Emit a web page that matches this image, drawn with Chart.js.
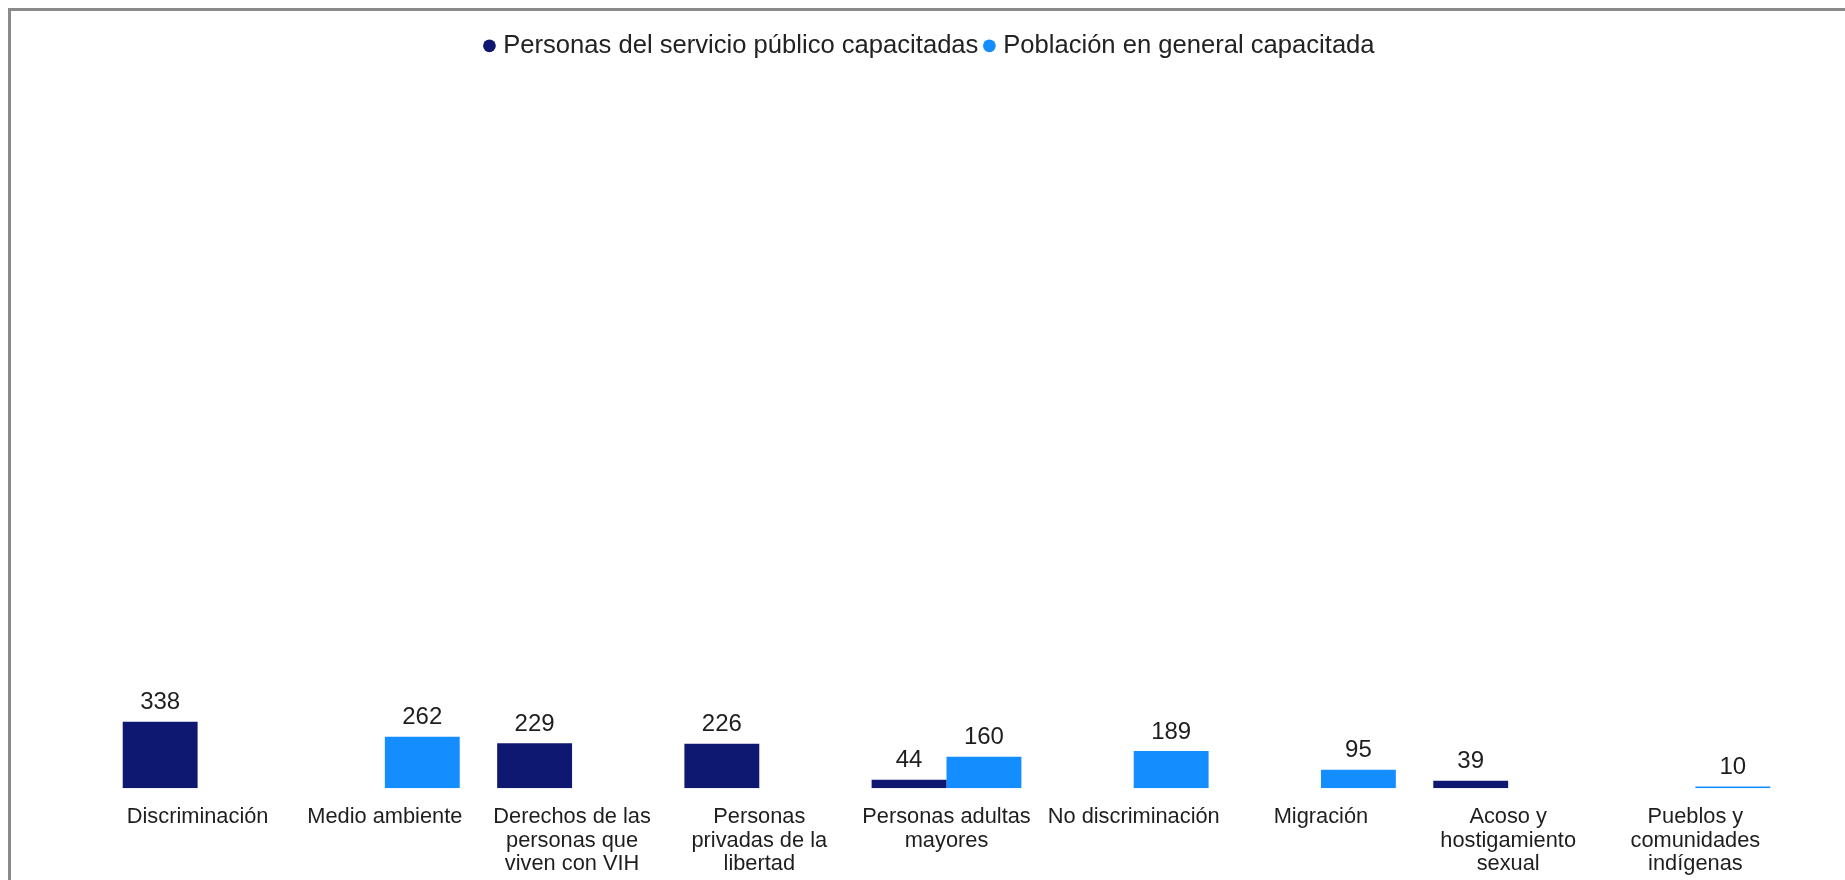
<!DOCTYPE html>
<html>
<head>
<meta charset="utf-8">
<script src="https://cdn.jsdelivr.net/npm/chart.js@4"></script>
<style>
  html, body { margin: 0; padding: 0; background: #fff; overflow: hidden; }
  #frame {
    position: absolute; left: 8px; top: 8px; width: 2000px; height: 2000px;
    border-top: 3px solid #8a8a8a; border-left: 3px solid #8a8a8a;
  }
  #myChart { position: absolute; left: 0; top: 0; }
</style>
</head>
<body>
<div id="frame"></div>
<canvas id="myChart" width="1845" height="897"></canvas>
<script>
const categories = [
  'Discriminación',
  'Medio ambiente',
  ['Derechos de las', 'personas que', 'viven con VIH'],
  ['Personas', 'privadas de la', 'libertad'],
  ['Personas adultas', 'mayores'],
  'No discriminación',
  'Migración',
  ['Acoso y', 'hostigamiento', 'sexual'],
  ['Pueblos y', 'comunidades', 'indígenas'],
];
const seriesNames = ['Personas del servicio público capacitadas', 'Población en general capacitada'];
const servicioPublico = [338, null, 229, 226, 44, null, null, 39, null];
const poblacionGeneral = [null, 262, null, null, 160, 189, 95, null, 10];

const fontFamily = '"Liberation Sans", Arial, sans-serif';

// draws the number above each bar
const valueLabels = {
  id: 'valueLabels',
  afterDatasetsDraw(chart) {
    const ctx = chart.ctx;
    ctx.save();
    ctx.font = '24px ' + fontFamily;
    ctx.fillStyle = '#1e1e1e';
    ctx.textAlign = 'center';
    ctx.textBaseline = 'middle';
    chart.data.datasets.forEach((ds, i) => {
      chart.getDatasetMeta(i).data.forEach((bar, j) => {
        const v = ds.data[j];
        if (v === null || v === undefined) return;
        ctx.fillText(String(v), bar.x, bar.y - 19);
      });
    });
    ctx.restore();
  },
};

const config = {
  type: 'bar',
  data: {
    labels: categories,
    datasets: [
      {
        label: seriesNames[0],
        data: servicioPublico,
        backgroundColor: '#0f1871',
        categoryPercentage: 0.8,
        barPercentage: 1.0,
      },
      {
        label: seriesNames[1],
        data: poblacionGeneral,
        backgroundColor: '#138dff',
        categoryPercentage: 0.8,
        barPercentage: 1.0,
      },
    ],
  },
  options: {
    responsive: false,
    animation: false,
    layout: { padding: { left: 40, right: 22, top: 23, bottom: 4 } },
    plugins: {
      legend: {
        position: 'top',
        labels: {
          usePointStyle: true,
          pointStyle: 'circle',
          boxWidth: 2,
          boxHeight: 9,
          padding: 10,
          color: '#222',
          font: { family: fontFamily, size: 25.6 },
        },
      },
      tooltip: { enabled: false },
    },
    scales: {
      x: {
        grid: { display: false, drawTicks: false },
        border: { display: false },
        ticks: {
          autoSkip: false,
          maxRotation: 0,
          padding: 17,
          color: '#1e1e1e',
          font: { family: fontFamily, size: 21.8, lineHeight: 1.08 },
        },
      },
      y: {
        min: 0,
        max: 3650,
        grid: { display: false },
        border: { display: false },
        ticks: { display: false },
        afterFit(scale) { scale.width = 64; },
      },
      y2: {
        position: 'right',
        min: 0,
        max: 3650,
        grid: { display: false },
        border: { display: false },
        ticks: { display: false },
        afterFit(scale) { scale.width = 34; },
      },
    },
  },
  plugins: [valueLabels],
};

const myChart = new Chart(document.getElementById('myChart'), config);
</script>
</body>
</html>
